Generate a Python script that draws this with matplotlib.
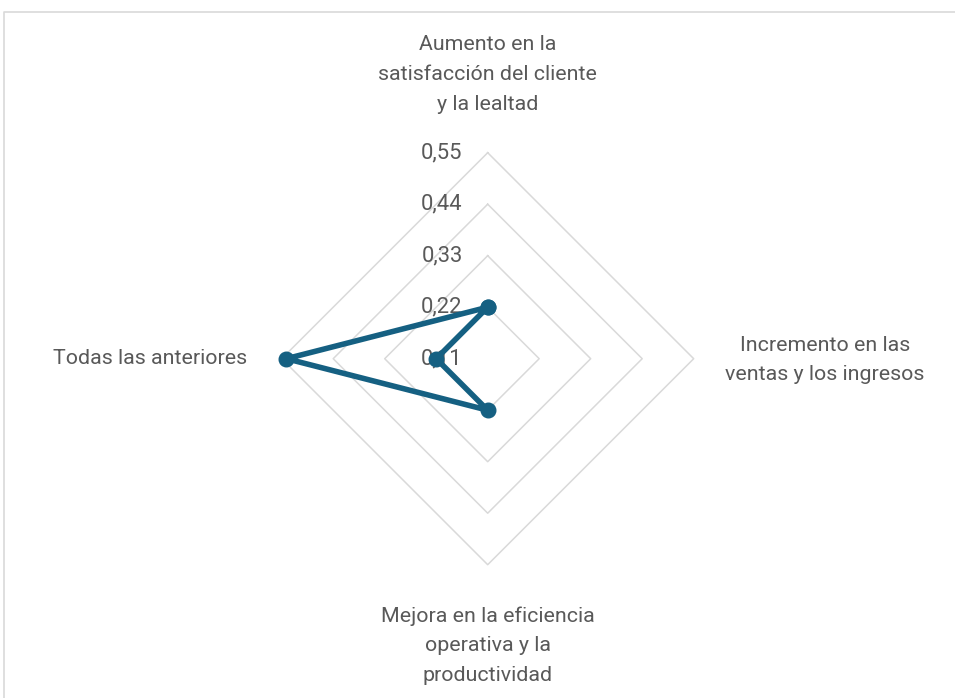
import numpy as np
import matplotlib
matplotlib.use("Agg")
import matplotlib.pyplot as plt

# radar data: four categories, clockwise from the top
categories = [
    "Aumento en la\nsatisfacción del cliente\ny la lealtad",
    "Incremento en las\nventas y los ingresos",
    "Mejora en la eficiencia\noperativa y la\nproductividad",
    "Todas las anteriores",
]
values = [0.22, 0.0, 0.22, 0.54]
ticks = [0.11, 0.22, 0.33, 0.44, 0.55]
tick_labels = ["0,11", "0,22", "0,33", "0,44", "0,55"]

r_min = 0.11
line_color = "#156082"
grid_color = "#D9D9D9"
text_color = "#595959"
plt.rcParams["font.family"] = ["Roboto", "DejaVu Sans"]

W, H = 955, 698
cx, cy = 487.7, 358.7          # plot centre in pixels
px_per_unit = 51.5 / 0.11      # radial scale

fig = plt.figure(figsize=(W / 100, H / 100), dpi=100)
ax = fig.add_axes([0, 0, 1, 1])
ax.set_xlim(-cx / px_per_unit, (W - cx) / px_per_unit)
ax.set_ylim(-(H - cy) / px_per_unit, cy / px_per_unit)
ax.axis("off")


def px(x, y):
    # pixel position -> data coordinates
    return (x - cx) / px_per_unit, (cy - y) / px_per_unit


angles = np.deg2rad([90, 0, -90, 180])

# diamond grid rings
for t in ticks[1:]:
    r = t - r_min
    xs = np.append(r * np.cos(angles), r * np.cos(angles[0]))
    ys = np.append(r * np.sin(angles), r * np.sin(angles[0]))
    ax.plot(xs, ys, color=grid_color, lw=1.1, zorder=1)

# tick labels, right-aligned left of the vertical axis
for t, lab in zip(ticks, tick_labels):
    x0, _ = px(cx - 25, 0)
    ax.text(x0, t - r_min, lab, ha="right", va="center",
            fontsize=15.8, color=text_color, zorder=2)

# data series (values below the minimum fall through the centre)
r = np.array(values) - r_min
xs = np.append(r * np.cos(angles), r[0] * np.cos(angles[0]))
ys = np.append(r * np.sin(angles), r[0] * np.sin(angles[0]))
ax.plot(xs, ys, color=line_color, lw=4.0, marker="o", ms=10.5,
        solid_joinstyle="round", zorder=3)

# category labels
kw = dict(fontsize=15.4, color=text_color, linespacing=1.72)
ax.text(*px(487.5, 35), categories[0], ha="center", va="top", **kw)
ax.text(*px(824.7, 360), categories[1], ha="center", va="center", **kw)
ax.text(*px(488, 606), categories[2], ha="center", va="top", **kw)
ax.text(*px(246.7, 359), categories[3], ha="right", va="center", **kw)

# chart-area border (top and left edges visible)
bx, by = px(4, 12)
ex, ey = px(W + 5, H + 5)
ax.plot([ex, bx, bx], [by, by, ey], color=grid_color, lw=1.2,
        clip_on=False, zorder=0)

fig.savefig("out.png", dpi=100)
